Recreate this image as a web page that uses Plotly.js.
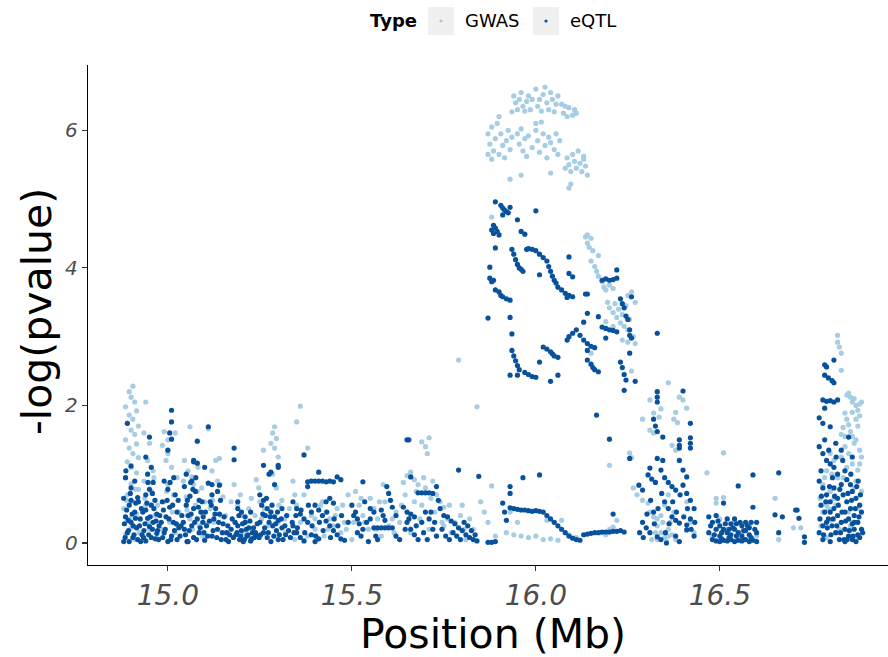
<!DOCTYPE html>
<html>
<head>
<meta charset="utf-8">
<script src="https://cdn.plot.ly/plotly-3.0.1.min.js"></script>
<style>html,body{margin:0;padding:0;background:#fff;}#chart{width:888px;height:657px;}</style>
</head>
<body>
<div id="chart"></div>
<script>
// ---- data (positions in Mb, -log10 p) ----
const seriesNames = ["GWAS", "eQTL"];
const xTickVals = [15.0, 15.5, 16.0, 16.5];
const xTickText = ["15.0", "15.5", "16.0", "16.5"];
const yTickVals = [0, 2, 4, 6];
const yTickText = ["0", "2", "4", "6"];

const gwasX = [
14.905,14.895,14.90,14.91,14.885,14.915,14.895,14.905,14.89,14.92,14.9,14.91,14.885,14.915,14.895,14.905,14.92,14.89,14.9,14.915,14.885,14.9,14.92,14.89,14.905,14.88,14.915,14.895,14.9,14.885,14.91,
14.94,14.935,14.95,14.945,14.96,14.935,14.955,14.94,14.965,14.95,14.97,
14.99,15.0,14.985,15.0,14.995,15.01,15.02,15.025,15.0,15.015,14.99,15.03,15.005,15.02,
15.06,15.045,15.055,15.065,15.07,15.08,15.05,15.075,15.09,15.06,15.085,15.095,15.1,
15.11,15.13,15.14,15.12,15.135,15.15,15.115,15.145,15.125,15.155,
15.18,15.19,15.2,15.21,15.22,15.23,15.24,15.25,15.26,15.255,15.215,
15.29,15.285,15.295,15.28,15.29,15.3,15.285,15.295,15.31,15.28,15.3,15.32,
15.36,15.35,15.38,15.34,15.37,15.35,15.39,15.36,15.4,15.38,15.345,
15.42,15.43,15.44,15.45,15.46,15.47,15.48,15.49,15.5,15.425,
15.51,15.52,15.53,15.545,15.55,15.56,15.57,15.58,15.585,15.59,15.6,
15.62,15.63,15.64,15.65,15.66,15.67,15.68,15.69,15.7,15.705,15.71,15.695,15.7,15.72,15.73,15.74,15.75,15.76,15.67,15.69,15.71,15.73,15.66,15.75,15.77,
15.79,15.84,15.88,15.8,15.82,15.83,15.85,15.86,15.87,15.89,15.81,
15.92,15.94,15.96,15.98,16.0,16.02,16.04,16.06,16.03,16.05,16.07,15.95,15.93,16.09,16.11,
15.94,15.945,15.95,15.955,15.96,15.965,15.97,15.975,15.98,15.985,15.99,15.935,
16.0,16.005,16.01,16.015,16.02,16.025,16.03,16.035,16.04,16.045,16.05,16.055,16.06,
16.07,16.075,16.08,16.085,16.09,16.1,16.105,16.11,
15.87,15.875,15.88,15.885,15.89,15.895,15.9,15.905,15.91,15.915,15.92,15.925,15.93,15.935,15.88,15.9,15.87,
15.95,15.955,15.96,15.965,15.97,15.975,15.98,15.99,16.0,16.005,16.01,16.02,16.025,16.03,16.035,16.04,16.05,16.055,16.06,16.065,16.0,16.015,
16.08,16.085,16.09,16.095,16.1,16.105,16.11,16.115,16.12,16.125,16.13,16.135,16.14,16.13,
15.93,15.96,16.04,16.09,16.095,15.88,
16.135,16.14,16.15,16.14,16.145,16.155,16.15,16.16,16.165,16.17,16.17,16.18,16.185,16.19,16.2,16.21,16.195,16.2,16.21,16.215,16.22,16.225,16.23,16.235,16.24,16.245,16.25,16.255,16.25,16.26,16.265,16.27,16.235,16.25,16.27,16.19,16.21,16.15,16.26,
16.2,16.22,16.21,16.18,16.19,16.2,16.255,16.26,16.265,16.275,16.29,16.29,16.305,16.31,16.32,16.31,16.32,16.32,16.31,16.335,16.34,16.36,16.38,16.375,16.385,16.39,16.4,16.41,16.37,16.38,16.33,16.34,16.35,16.36,16.37,16.33,16.345,16.355,16.36,16.38,16.41,16.42,16.43,16.35,16.36,
16.465,16.49,16.49,16.51,16.51,16.5,16.52,16.54,16.56,16.58,16.6,16.48,16.65,16.66,16.7,16.72,16.53,
16.82,16.82,16.825,16.83,16.83,16.845,16.85,16.855,16.86,16.865,16.87,16.875,16.88,16.84,16.845,16.85,16.835,16.855,16.83,16.86,16.87,16.84,16.88,16.885,16.88,16.875,16.87,16.885,16.8,16.81,16.79,16.82,16.78,16.8,16.81,16.79,16.78,16.82,16.8,16.775,16.85,16.86,16.84,16.87,16.79,16.815,
14.887,14.897,14.912,14.922,14.937,14.947,14.962,14.972,14.982,14.997,15.012,15.027,15.042,15.052,15.067,15.082,15.092,15.107,15.122,15.142,15.157,15.172,15.182,15.197,15.207,15.227,15.237,15.247,15.262,15.272,15.302,15.318,15.33,15.345,
15.4,15.415,15.435,15.455,15.475,15.485,15.505,15.525,15.535,15.565,15.575,15.61,15.615,15.635,15.645,15.675,15.685,15.715,15.725,15.745,15.765,15.78,15.795,15.805,
16.772,16.785,16.795,16.805,16.815,16.825,16.835,16.845,16.855,16.865,16.875,16.83,16.84,16.85,16.86,16.865,16.875,16.88,16.885,16.87,16.86,
16.315,16.325,16.34,16.365,16.375,16.33
];
const gwasY = [
2.28,2.2,2.12,2.05,1.98,1.92,1.86,1.8,1.74,1.7,1.64,1.58,1.5,1.44,1.38,1.3,1.24,1.18,1.1,1.02,0.95,0.86,0.78,0.7,0.6,0.5,0.42,0.32,0.22,0.12,0.05,
2.05,1.6,1.45,1.2,1.05,0.9,0.75,0.55,0.4,0.2,0.08,
1.62,1.5,1.42,1.3,1.2,1.1,1.6,0.95,0.85,0.7,0.6,0.45,0.3,0.15,
1.69,1.2,1.05,0.96,0.85,0.75,0.67,0.55,0.45,0.35,0.25,0.1,0.6,
1.66,1.2,1.23,1.05,0.9,0.67,0.5,0.4,0.3,0.15,
0.85,0.55,0.4,0.3,0.5,0.2,0.92,0.6,1.35,0.35,0.1,
1.69,1.6,1.52,1.45,1.38,1.25,1.0,0.8,0.62,0.45,0.3,0.15,
1.99,1.76,1.38,0.9,0.7,0.55,0.4,0.3,0.2,0.1,0.05,
0.6,0.45,0.35,0.25,0.5,0.15,0.3,0.7,0.05,0.1,
0.75,0.55,0.4,0.2,0.65,0.5,0.35,0.1,0.85,0.6,0.25,
0.45,0.3,0.88,0.98,1.03,0.92,0.85,1.47,1.4,1.3,1.53,0.95,0.8,0.9,0.7,0.6,0.52,0.35,0.6,0.55,0.2,0.1,0.15,0.25,0.15,
2.66,1.98,0.83,0.55,0.35,0.2,0.6,0.45,0.3,0.1,0.05,
0.15,0.12,0.1,0.08,0.1,0.05,0.06,0.04,0.33,0.3,0.33,0.3,0.45,0.12,0.08,
6.5,6.4,6.3,6.45,6.55,6.35,6.28,6.42,6.5,6.3,6.45,6.27,
6.6,6.35,6.45,6.28,6.52,6.63,6.4,6.3,6.55,6.45,6.27,6.38,6.5,
6.38,6.25,6.35,6.2,6.33,6.22,6.3,6.25,
5.95,5.8,6.05,5.7,5.88,6.1,5.65,5.95,5.78,5.6,5.85,6.0,5.72,5.9,5.58,6.2,5.65,
5.95,5.8,6.02,5.7,5.88,5.62,5.92,5.75,6.0,5.85,5.68,5.95,5.78,5.6,5.9,5.82,5.72,5.95,5.65,5.85,6.1,6.12,
5.45,5.6,5.5,5.4,5.65,5.55,5.45,5.7,5.52,5.4,5.58,5.48,5.35,5.62,
5.29,5.35,5.38,5.16,5.22,4.74,
4.45,4.48,4.43,4.36,4.3,4.25,4.1,4.02,3.95,4.18,3.88,3.8,3.72,3.68,3.75,3.7,3.5,3.42,3.35,3.48,3.28,3.4,3.2,3.32,3.15,3.45,3.1,3.25,3.6,3.65,3.0,3.5,2.95,2.92,2.9,3.22,3.15,2.76,2.5,
1.13,0.33,0.23,0.15,0.12,0.2,1.31,1.24,0.8,0.7,0.62,1.8,0.58,0.45,0.38,1.64,1.6,1.89,2.08,1.83,1.95,2.33,1.9,1.8,1.75,2.12,2.08,1.96,1.42,1.35,0.25,0.15,0.08,0.2,0.12,0.05,0.3,0.02,0.1,0.05,0.6,0.3,0.15,0.55,0.7,
1.02,0.65,0.58,1.31,0.66,0.35,0.2,0.3,0.15,0.25,0.1,0.1,0.65,0.05,0.22,0.22,0.05,
3.02,2.92,2.85,2.76,2.51,2.15,2.18,2.12,2.05,2.1,2.0,1.93,2.02,1.89,1.8,1.72,1.68,1.62,1.58,1.55,1.5,1.55,1.35,1.25,1.15,1.06,0.9,0.75,1.3,1.2,1.05,0.95,0.85,0.75,0.65,0.55,0.45,0.4,0.33,0.25,0.45,0.3,0.2,0.1,0.08,0.15,
0.62,0.35,0.78,0.15,0.65,0.3,0.95,0.55,0.2,0.75,0.45,0.25,0.9,0.48,0.2,1.1,0.8,0.28,0.62,0.85,0.4,0.6,0.3,0.7,0.15,0.65,0.4,0.8,0.5,0.25,0.55,0.35,0.5,0.7,
0.35,0.55,0.2,0.4,0.55,0.2,0.3,0.65,0.3,0.2,0.6,0.35,0.15,0.55,0.7,0.75,0.35,0.65,0.45,0.3,0.55,0.3,0.4,0.2,
0.65,0.95,0.5,1.0,0.55,0.2,0.95,1.1,0.25,0.8,0.5,1.25,1.4,1.3,1.15,1.45,1.7,1.85,2.05,1.8,1.9,
0.05,0.15,0.4,0.3,0.45,0.35
];

const eqtlX = [
14.89,14.885,14.9,14.88,14.895,14.91,14.885,14.9,14.915,14.89,14.905,14.88,14.92,14.925,14.93,14.895,
14.95,14.94,14.955,14.945,14.96,14.95,14.94,14.965,14.955,14.94,14.97,14.945,14.96,14.95,14.935,14.97,14.955,14.94,14.975,
15.01,15.01,15.005,15.01,15.0,14.99,15.0,15.02,14.985,15.005,15.025,14.995,15.015,15.03,14.99,15.01,15.025,15.0,
15.08,15.07,15.08,15.05,15.065,15.045,15.075,15.06,15.085,15.05,15.07,15.09,15.055,15.08,15.095,15.065,15.045,15.085,15.07,15.1,15.055,
15.11,15.12,15.115,15.13,15.14,15.125,15.15,15.135,15.16,15.12,15.145,15.165,15.105,
15.18,15.18,15.19,15.2,15.175,15.21,15.19,15.22,15.2,15.23,15.185,15.215,15.235,15.195,15.225,15.205,15.24,15.21,
15.25,15.26,15.255,15.27,15.28,15.265,15.29,15.3,15.275,15.285,15.31,15.295,15.26,15.32,15.27,15.3,15.28,15.25,15.31,15.29,15.275,15.3,
15.26,15.3,15.28,15.41,15.1,15.14,15.11,15.07,
15.38,15.39,15.4,15.41,15.42,15.43,15.44,15.45,15.46,15.47,15.53,15.38,15.37,
15.34,15.35,15.36,15.37,15.38,15.39,15.4,15.41,15.42,15.43,15.44,15.45,15.46,15.47,15.48,15.35,15.36,15.37,15.39,15.41,15.43,15.44,15.45,15.34,15.4,
15.5,15.51,15.515,15.52,15.53,15.525,15.535,15.55,15.56,15.57,15.58,15.59,15.6,15.61,15.58,15.585,15.59,15.595,15.6,15.605,15.61,15.62,15.63,15.57,15.545,15.55,15.62,
15.65,15.655,15.66,15.64,15.65,15.66,15.67,15.68,15.69,15.7,15.71,15.72,15.73,15.65,15.66,15.67,15.68,15.69,15.7,15.71,15.72,15.73,15.74,15.75,15.76,15.77,15.78,15.79,15.8,15.81,15.82,15.83,15.84,15.79,15.845,15.87,15.88,15.89,
15.91,15.915,15.92,15.93,15.93,15.93,15.94,15.95,15.96,15.97,15.98,15.99,16.0,16.01,16.02,16.03,16.04,16.05,16.06,16.07,16.08,16.09,16.1,16.11,16.12,15.965,16.01,
16.13,16.14,16.15,16.16,16.17,16.18,16.19,16.2,16.21,16.22,16.23,16.24,16.21,
15.89,15.905,15.91,15.915,15.92,15.925,15.93,15.91,15.885,15.88,15.885,15.89,15.895,15.9,16.0,15.95,15.96,15.97,
15.89,15.935,15.94,15.945,15.95,15.955,15.96,15.965,15.975,15.98,15.99,16.0,16.01,16.02,16.03,16.035,16.04,16.045,16.05,16.055,16.06,16.07,16.08,16.09,16.1,16.085,
15.875,16.01,16.09,16.09,16.1,
15.875,15.88,15.885,15.89,15.9,15.905,15.91,15.92,15.93,
15.87,15.93,15.935,15.935,15.94,15.945,15.95,15.955,15.93,15.95,15.97,15.98,15.99,16.0,
16.02,16.03,16.04,16.045,16.05,16.06,16.01,16.04,16.06,
16.085,16.09,16.1,16.11,16.12,16.13,16.14,16.13,16.14,16.17,
16.14,16.15,16.155,16.16,16.17,16.14,16.15,16.16,
16.18,16.19,16.2,16.21,16.22,
16.18,16.19,16.2,16.21,16.22,16.22,16.135,
16.23,16.235,16.24,16.245,16.25,16.255,16.255,16.26,16.26,16.19,16.14,
16.23,16.235,16.24,16.245,16.27,16.255,16.24,16.165,16.2,
16.33,16.33,16.33,16.33,16.40,16.32,16.325,16.33,16.345,16.42,16.39,16.39,16.39,16.42,16.42,16.42,16.33,16.345,16.31,16.39,16.305,16.315,16.325,16.34,16.35,16.36,16.37,16.38,16.4,16.41,16.40,16.41,16.42,16.43,16.28,16.29,16.255,16.29,16.3,16.31,16.37,16.38,16.39,16.33,16.34,16.355,16.41,16.41,16.38,16.39,16.32,16.35,16.36,16.43,16.42,
16.47,16.48,16.49,16.5,16.51,16.52,16.53,16.54,16.55,16.55,16.56,16.57,16.58,16.59,16.59,16.6,16.48,16.49,16.5,16.51,16.52,16.53,16.54,16.55,16.56,16.57,16.58,16.59,16.6,16.5,16.52,16.54,16.56,16.58,16.6,16.49,16.53,16.57,16.47,16.51,
16.66,16.65,16.67,16.71,16.66,16.706,16.715,16.73,16.73,
16.785,16.79,16.81,16.785,16.795,16.805,16.81,16.78,16.79,16.8,16.81,16.82,16.785,16.77,16.78,16.8,16.785,16.815,16.85,16.86,16.77,16.78,16.79,16.8,16.81,16.775,16.82,16.83,16.84,
16.77,16.78,16.79,16.8,16.81,16.82,16.83,16.84,16.85,16.86,16.87,16.88,16.775,16.785,16.795,16.805,16.815,16.825,16.835,16.845,16.855,16.865,16.875,16.885,16.77,16.78,16.79,16.8,16.81,16.82,16.83,16.84,16.85,16.86,16.87,16.88,16.845,16.855,16.865,16.875,16.885,16.84,16.86,16.8,16.78,
14.882,14.888,14.893,14.898,14.903,14.908,14.913,14.918,14.923,14.928,14.884,14.892,14.9,14.906,14.912,14.918,14.926,14.886,14.9,14.91,
14.932,14.938,14.943,14.948,14.952,14.958,14.962,14.968,14.972,14.978,14.934,14.946,14.958,14.966,14.976,
14.982,14.988,14.993,14.998,15.003,15.008,15.013,15.018,15.023,15.028,15.033,15.038,14.986,15.006,15.016,15.036,
15.042,15.048,15.053,15.058,15.063,15.068,15.073,15.078,15.083,15.088,15.093,15.098,15.062,15.076,15.052,15.096,
15.102,15.108,15.113,15.118,15.123,15.128,15.133,15.138,15.143,15.148,15.153,15.158,15.163,15.168,15.12,15.135,
15.172,15.178,15.183,15.188,15.193,15.198,15.203,15.208,15.213,15.218,15.223,15.228,15.233,15.238,15.243,15.248,15.19,15.225,
15.252,15.258,15.263,15.268,15.273,15.278,15.283,15.288,15.293,15.298,15.303,15.308,15.313,15.318,15.323,15.328,15.333,15.338,15.343,15.348,
15.352,15.362,15.372,15.382,15.392,15.402,15.412,15.422,15.432,15.442,15.452,15.462,15.472,15.49,15.505,15.515,15.54,15.56,15.565,15.645,15.655,15.675,15.695,15.705,15.715,15.725,15.735,15.745,15.755,15.765,15.775,15.785,15.795,15.805,15.815,15.825,15.835,
16.772,16.776,16.782,16.788,16.792,16.798,16.802,16.808,16.812,16.818,16.822,16.828,16.832,16.838,16.842,16.848,16.852,16.858,16.862,16.868,16.872,16.878,16.882,16.888,16.846,16.866,16.826,16.806,16.816,16.796,16.834,16.856,16.876,
16.475,16.485,16.495,16.505,16.515,16.525,16.535,16.545,16.555,16.565,16.575,16.585,16.595,16.505,16.525,16.545,16.565,16.585,
16.282,16.292,16.302,16.312,16.322,16.332,16.342,16.352,16.362,16.372,16.382,16.392,16.402,16.412,16.422,16.432
];
const eqtlY = [
1.74,0.95,0.8,0.65,0.55,0.45,0.38,0.3,0.22,0.15,0.08,0.02,0.6,0.35,0.12,0.02,
1.54,1.25,1.1,1.0,0.88,0.78,0.7,0.62,0.55,0.48,0.42,0.36,0.3,0.24,0.18,0.14,0.08,0.03,0.05,
1.93,1.76,1.6,1.51,1.35,0.9,0.78,0.7,0.6,0.52,0.45,0.38,0.3,0.22,0.15,0.1,0.05,0.02,
1.48,1.2,1.16,1.0,0.9,0.82,0.75,0.68,0.62,0.55,0.5,0.45,0.4,0.35,0.3,0.25,0.2,0.15,0.08,0.04,0.02,
1.69,0.85,0.6,0.5,0.42,0.35,0.28,0.2,0.15,0.1,0.05,0.02,0.25,
1.38,1.21,0.6,0.45,0.35,0.3,0.25,0.22,0.18,0.15,0.12,0.1,0.08,0.05,0.03,0.02,0.12,0.38,
0.7,0.62,0.55,0.5,0.45,0.4,0.38,0.33,0.3,0.25,0.22,0.18,0.15,0.12,0.08,0.05,0.02,0.3,0.5,0.85,1.0,1.1,
1.13,1.13,1.03,1.03,1.1,0.84,0.87,1.18,
0.89,0.9,0.9,0.9,0.9,0.89,0.9,0.89,0.96,0.92,0.89,0.82,1.28,
0.6,0.5,0.42,0.35,0.3,0.45,0.55,0.48,0.4,0.32,0.25,0.18,0.12,0.06,0.04,0.15,0.08,0.03,0.12,0.06,0.6,0.65,0.58,0.25,0.02,
0.55,0.45,0.35,0.28,0.2,0.1,0.6,0.5,0.22,0.22,0.22,0.22,0.22,0.22,0.48,0.4,0.33,0.82,0.72,0.62,0.52,0.1,0.05,0.05,0.02,0.35,0.4,
1.5,1.5,0.96,0.52,0.45,0.42,0.38,0.73,0.73,0.73,0.73,0.72,0.82,0.3,0.2,0.12,0.05,0.3,0.45,0.35,0.2,0.1,0.5,0.4,0.38,0.32,0.28,0.22,0.18,0.12,0.08,0.05,0.03,1.06,0.97,0.01,0.01,0.02,
0.58,0.45,0.33,0.82,0.72,0.51,0.5,0.49,0.48,0.48,0.47,0.46,0.47,0.46,0.45,0.4,0.35,0.3,0.25,0.2,0.15,0.1,0.07,0.05,0.04,0.95,0.99,
0.12,0.13,0.14,0.15,0.15,0.16,0.16,0.16,0.17,0.17,0.18,0.16,0.42,
4.96,4.91,4.87,4.84,4.82,4.8,4.88,4.77,4.62,4.55,4.5,4.58,4.53,4.48,4.83,4.7,4.53,4.49,
4.29,4.27,4.2,4.12,4.05,4.0,3.98,3.95,4.27,4.28,4.27,4.25,4.2,4.15,4.1,4.02,3.95,3.88,3.82,3.78,3.72,3.68,3.63,3.6,3.58,3.57,
4.01,3.9,4.16,3.92,3.87,
3.85,3.8,3.82,3.68,3.65,3.6,3.58,3.55,3.53,
3.27,3.28,3.04,2.8,2.72,2.65,2.58,2.52,2.44,2.44,2.48,2.45,2.42,2.41,
2.85,2.82,2.78,2.75,2.72,2.7,2.63,2.35,2.44,
2.95,3.0,3.05,3.1,3.02,2.95,3.62,3.21,3.34,3.29,
2.66,2.6,2.55,2.52,2.49,2.9,2.86,2.84,
3.14,3.12,3.1,3.09,3.07,
3.82,3.84,3.82,3.83,3.85,3.97,3.62,
3.55,3.48,3.42,3.3,3.25,3.1,3.02,2.98,3.58,2.98,2.8,
2.63,2.55,2.45,2.37,2.35,2.76,2.22,1.86,1.51,
3.05,2.2,2.12,2.05,2.21,1.8,1.7,1.62,1.54,1.74,1.5,1.42,1.38,1.53,1.45,1.38,1.23,1.2,1.09,1.2,0.99,0.93,0.88,1.06,0.95,0.88,0.82,0.77,1.06,0.96,0.84,0.72,0.62,0.5,0.84,0.77,1.23,0.3,0.22,0.15,0.38,0.33,0.29,0.09,0.05,0.0,0.26,0.19,0.1,0.02,0.45,0.6,0.5,0.1,0.35,
0.38,0.3,0.2,0.1,0.58,0.35,0.28,0.2,0.83,0.15,0.25,0.3,0.22,0.99,0.52,0.3,0.05,0.03,0.02,0.04,0.03,0.05,0.02,0.04,0.03,0.05,0.02,0.04,0.02,0.25,0.15,0.35,0.1,0.12,0.15,0.4,0.12,0.18,0.15,0.2,
1.02,0.41,0.38,0.48,0.15,0.48,0.36,0.09,0.01,
2.59,2.56,2.66,2.44,2.4,2.36,2.33,2.08,2.06,2.07,2.05,2.08,1.96,1.82,1.74,1.69,1.5,1.45,1.54,1.25,1.4,1.3,1.2,1.15,1.1,1.05,1.0,1.35,1.05,
0.9,0.8,0.7,0.6,0.5,0.4,0.3,0.2,0.1,0.05,0.02,0.08,0.55,0.45,0.35,0.25,0.15,0.05,0.7,0.6,0.5,0.4,0.3,0.2,0.15,0.05,0.3,0.02,0.8,0.65,0.85,0.45,0.35,0.75,0.65,0.55,0.92,0.85,0.2,0.12,0.45,0.02,0.28,0.45,0.25,
0.28,0.48,0.18,0.72,0.42,0.12,0.58,0.05,0.25,0.5,0.08,0.33,0.62,0.25,0.36,0.66,0.02,1.05,1.12,0.9,
0.45,0.28,0.58,0.12,0.38,0.2,0.5,0.32,0.18,0.4,0.08,0.88,0.72,0.06,0.25,
0.3,0.48,0.2,0.62,0.35,0.05,0.55,0.18,0.28,0.62,0.1,0.4,0.08,0.88,0.95,0.25,
0.3,0.12,0.62,0.18,0.42,0.78,0.3,0.05,0.52,0.22,0.6,0.15,0.88,0.95,0.02,0.38,
0.45,0.1,0.32,0.55,0.18,0.42,0.08,0.3,0.62,0.15,0.38,0.05,0.25,0.12,0.7,0.75,
0.2,0.08,0.3,0.15,0.4,0.1,0.28,0.05,0.2,0.12,0.32,0.06,0.22,0.15,0.28,0.08,0.5,0.45,
0.12,0.42,0.22,0.65,0.15,0.38,0.55,0.1,0.28,0.45,0.12,0.35,0.05,0.25,0.4,0.18,0.08,0.3,0.15,0.4,
0.22,0.48,0.15,0.55,0.25,0.1,0.3,0.18,0.45,0.08,0.35,0.25,0.4,0.3,0.4,0.15,0.3,0.45,0.1,0.2,0.35,0.25,0.15,0.05,0.45,0.3,0.62,0.2,0.1,0.05,0.15,0.1,0.05,0.3,0.25,0.18,0.12,
0.35,0.68,0.12,0.6,0.22,0.82,0.12,0.35,0.68,0.25,0.55,0.15,0.45,0.05,0.32,0.72,0.18,0.62,0.1,0.5,0.82,0.38,0.7,0.15,0.05,0.3,0.78,0.95,1.25,1.35,1.2,1.0,0.9,
0.25,0.12,0.32,0.06,0.28,0.08,0.22,0.1,0.3,0.05,0.25,0.08,0.2,0.15,0.2,0.28,0.18,0.3,
0.15,0.08,0.42,0.62,0.28,0.5,0.72,0.15,0.28,0.6,0.45,0.7,0.38,0.5,0.2,0.3
];

// ---- layout geometry (px) ----
const W = 888, H = 657, ML = 88, MR = 0, MT = 65, MB = 92;
const PW = W - ML - MR, PH = H - MT - MB;
const px2x = p => (p - ML) / PW;
const py2y = p => (H - MB - p) / PH;

const colGWAS = "#a6cde3";
const colEQTL = "#08519c";
const font = "DejaVu Sans, Verdana, sans-serif";

const traces = [
  {type: "scatter", mode: "markers", name: seriesNames[0], x: gwasX, y: gwasY,
   marker: {color: colGWAS, size: 5.2, line: {width: 0}}, showlegend: false, hoverinfo: "skip"},
  {type: "scatter", mode: "markers", name: seriesNames[1], x: eqtlX, y: eqtlY,
   marker: {color: colEQTL, size: 5.2, line: {width: 0}}, showlegend: false, hoverinfo: "skip"}
];

const legY = 21;
const shapes = [
  {type: "rect", xref: "paper", yref: "paper", xsizemode: "pixel", ysizemode: "pixel",
   xanchor: px2x(441), yanchor: py2y(legY), x0: -13, x1: 13, y0: -14, y1: 14,
   fillcolor: "#f0f0f0", line: {width: 0}},
  {type: "rect", xref: "paper", yref: "paper", xsizemode: "pixel", ysizemode: "pixel",
   xanchor: px2x(546), yanchor: py2y(legY), x0: -13, x1: 13, y0: -14, y1: 14,
   fillcolor: "#f0f0f0", line: {width: 0}},
  {type: "circle", xref: "paper", yref: "paper", xsizemode: "pixel", ysizemode: "pixel",
   xanchor: px2x(441), yanchor: py2y(legY), x0: -1.6, x1: 1.6, y0: -1.6, y1: 1.6,
   fillcolor: colGWAS, line: {width: 0}},
  {type: "circle", xref: "paper", yref: "paper", xsizemode: "pixel", ysizemode: "pixel",
   xanchor: px2x(546), yanchor: py2y(legY), x0: -1.6, x1: 1.6, y0: -1.6, y1: 1.6,
   fillcolor: colEQTL, line: {width: 0}}
];

const annotations = [
  {xref: "paper", yref: "paper", x: px2x(419), y: py2y(legY), xanchor: "right", yanchor: "middle",
   text: "<b>Type</b>", showarrow: false, font: {family: font, size: 18, color: "#000"}},
  {xref: "paper", yref: "paper", x: px2x(463), y: py2y(legY), xanchor: "left", yanchor: "middle",
   text: seriesNames[0], showarrow: false, font: {family: font, size: 18, color: "#000"}},
  {xref: "paper", yref: "paper", x: px2x(568), y: py2y(legY), xanchor: "left", yanchor: "middle",
   text: seriesNames[1], showarrow: false, font: {family: font, size: 18, color: "#000"}},
  {xref: "paper", yref: "paper", x: px2x(493), y: py2y(634), xanchor: "center", yanchor: "middle",
   text: "Position (Mb)", showarrow: false, font: {family: font, size: 41, color: "#000"}},
  {xref: "paper", yref: "paper", x: px2x(37), y: py2y(312), xanchor: "center", yanchor: "middle",
   text: "-log(pvalue)", textangle: -90, showarrow: false, font: {family: font, size: 41, color: "#000"}}
];

const layout = {
  width: W, height: H,
  margin: {l: ML, r: MR, t: MT, b: MB, pad: 0},
  paper_bgcolor: "#fff", plot_bgcolor: "#fff",
  showlegend: false, hovermode: false,
  xaxis: {range: [14.783, 16.957], tickvals: xTickVals, ticktext: xTickText,
          showgrid: false, zeroline: false, showline: true, linecolor: "#000", linewidth: 1.3,
          ticks: "outside", ticklen: 5, tickwidth: 1.2, tickcolor: "#333",
          tickfont: {family: font, size: 28, color: "#4d4d4d", style: "italic"}},
  yaxis: {range: [-0.32, 6.95], tickvals: yTickVals, ticktext: yTickText,
          showgrid: false, zeroline: false, showline: true, linecolor: "#000", linewidth: 1.3,
          ticks: "outside", ticklen: 5, tickwidth: 1.2, tickcolor: "#333",
          tickfont: {family: font, size: 20, color: "#4d4d4d", style: "italic"}},
  shapes: shapes,
  annotations: annotations
};

Plotly.newPlot("chart", traces, layout, {displayModeBar: false, staticPlot: true});
</script>
</body>
</html>
